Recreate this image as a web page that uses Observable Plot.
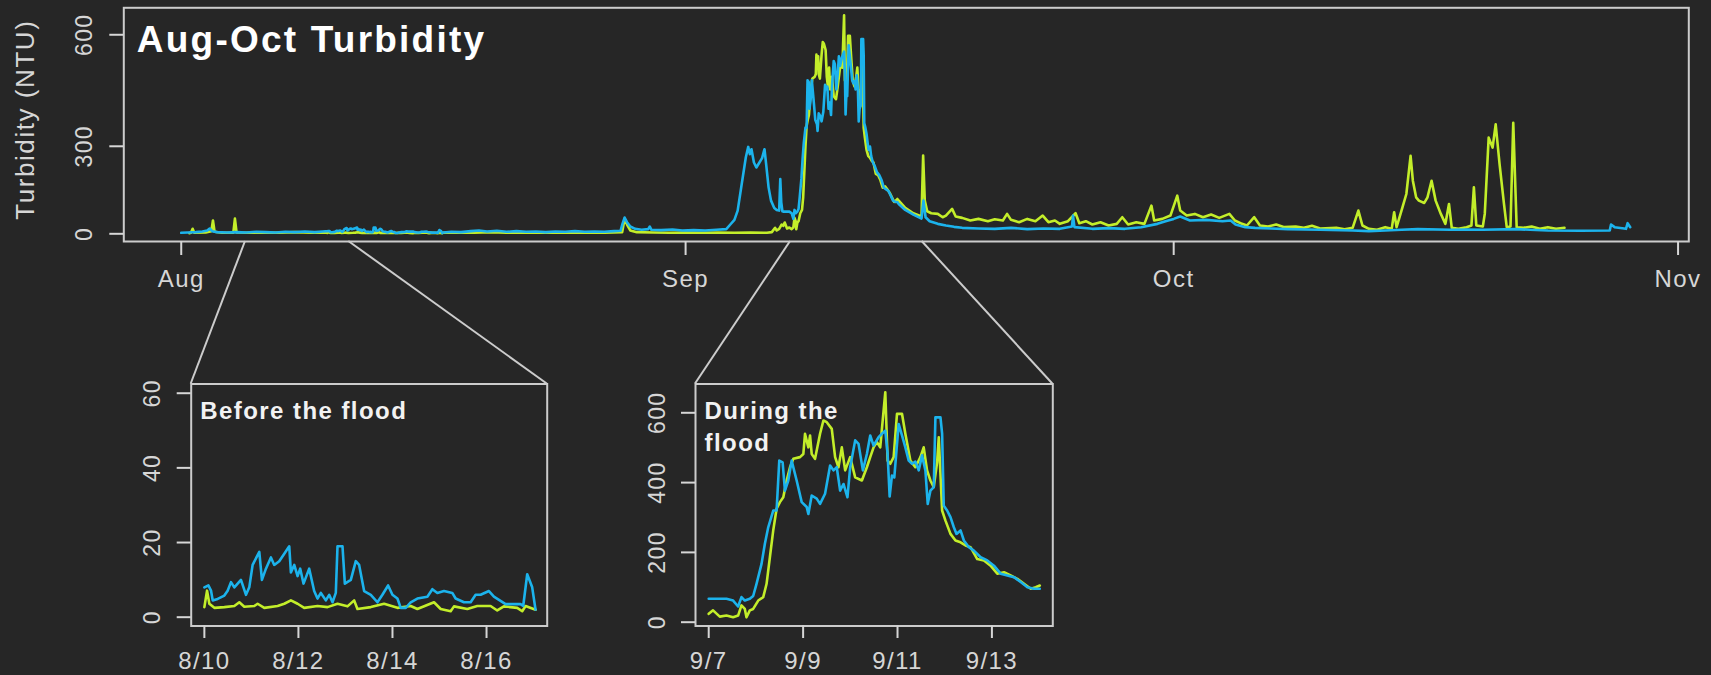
<!DOCTYPE html>
<html><head><meta charset="utf-8">
<script src="https://cdn.jsdelivr.net/npm/d3@7"></script>
<script src="https://cdn.jsdelivr.net/npm/@observablehq/plot@0.6"></script>
<style>
html,body{margin:0;padding:0;background:#262626;}
#chart{position:relative;width:1711px;height:675px;background:#262626;overflow:hidden;}
#chart svg{position:absolute;left:0;top:0;}
</style></head><body><div id="chart"></div>
<script>
// ---------- data (day offset, turbidity NTU) ----------
const seriesNames = ["Sensor A", "Sensor B"]; // green, blue
const mainStart = "2013-08-01";
const beforeStart = "2013-08-10";
const duringStart = "2013-09-07";

// "Before the flood" window (days since Aug 10)
const beforeBlue = [[0.00,8.0],[0.085,8.5],[0.142,7.1],[0.177,4.5],[0.283,4.9],[0.425,5.8],[0.495,7.1],[0.566,9.4],[0.637,8.0],[0.708,9.0],[0.778,10.0],[0.885,6.0],[0.955,8.0],[1.026,14.0],[1.168,17.5],[1.224,10.0],[1.309,13.0],[1.415,16.0],[1.486,14.0],[1.592,15.0],[1.699,17.0],[1.805,19.0],[1.840,12.0],[1.911,14.0],[1.982,11.0],[2.038,13.0],[2.109,9.0],[2.229,13.0],[2.335,7.0],[2.406,5.0],[2.477,6.5],[2.583,4.5],[2.654,6.0],[2.725,4.0],[2.795,6.5],[2.831,19.0],[2.937,19.0],[2.987,9.0],[3.114,10.0],[3.220,15.0],[3.291,14.0],[3.397,7.0],[3.539,6.0],[3.680,4.0],[3.786,6.0],[3.907,8.5],[3.999,6.0],[4.105,5.0],[4.176,2.5],[4.282,2.5],[4.388,4.0],[4.529,5.0],[4.742,5.5],[4.848,7.5],[4.954,6.5],[5.096,7.0],[5.272,6.5],[5.343,5.0],[5.520,4.0],[5.662,4.0],[5.768,6.0],[5.874,6.0],[6.051,7.0],[6.157,5.5],[6.405,3.5],[6.723,3.5],[6.780,3.0],[6.865,11.5],[6.971,8.0],[7.042,2.0]];
const beforeGreen = [[0.00,2.7],[0.057,7.1],[0.106,3.6],[0.212,2.5],[0.425,2.7],[0.637,3.0],[0.743,4.0],[0.849,2.8],[1.062,3.0],[1.132,3.6],[1.274,2.5],[1.557,3.0],[1.699,3.6],[1.840,4.5],[1.982,3.6],[2.123,2.5],[2.406,3.0],[2.618,2.7],[2.831,3.6],[3.043,2.9],[3.185,4.5],[3.255,2.2],[3.539,2.7],[3.822,3.6],[4.105,2.5],[4.388,3.0],[4.529,2.2],[4.883,4.0],[5.025,2.2],[5.237,1.6],[5.308,2.9],[5.591,2.2],[5.803,3.0],[6.086,3.0],[6.228,1.8],[6.369,2.9],[6.652,2.5],[6.759,1.6],[6.830,3.0],[7.042,2.0]];

// "During the flood" window (days since Sep 7)
const duringBlue = [[0.00,67],[0.376,67],[0.517,62],[0.623,45],[0.694,72],[0.765,62],[0.871,67],[0.942,75],[1.013,110],[1.119,167],[1.190,225],[1.261,272],[1.367,320],[1.438,320],[1.495,463],[1.566,458],[1.615,377],[1.686,406],[1.757,463],[1.863,406],[1.970,344],[2.076,330],[2.111,310],[2.182,363],[2.288,354],[2.359,339],[2.465,368],[2.572,449],[2.643,435],[2.713,444],[2.784,377],[2.855,396],[2.940,358],[2.997,444],[3.103,521],[3.174,511],[3.266,435],[3.351,482],[3.422,535],[3.493,506],[3.599,530],[3.670,540],[3.741,549],[3.790,482],[3.833,360],[3.882,420],[3.932,415],[4.024,568],[4.095,535],[4.166,501],[4.237,463],[4.308,454],[4.378,460],[4.449,435],[4.520,478],[4.591,435],[4.640,339],[4.697,377],[4.768,387],[4.803,587],[4.910,587],[4.945,540],[4.980,334],[5.051,320],[5.122,301],[5.193,272],[5.250,253],[5.335,263],[5.406,234],[5.512,215],[5.618,205],[5.760,186],[5.902,177],[6.043,162],[6.185,139],[6.327,134],[6.468,129],[6.610,115],[6.752,100],[6.893,96],[7.014,96]];
const duringGreen = [[0.00,24],[0.092,34],[0.234,16],[0.376,19],[0.517,14],[0.623,19],[0.694,48],[0.765,38],[0.80,14],[0.871,34],[0.942,38],[1.049,62],[1.155,72],[1.226,110],[1.296,186],[1.367,263],[1.438,325],[1.509,344],[1.580,358],[1.651,406],[1.722,444],[1.792,468],[1.934,473],[2.005,482],[2.040,540],[2.111,501],[2.147,535],[2.182,482],[2.253,468],[2.359,540],[2.430,578],[2.501,573],[2.607,554],[2.678,473],[2.749,444],[2.820,501],[2.891,435],[2.997,473],[3.103,415],[3.245,406],[3.351,444],[3.422,473],[3.493,501],[3.564,516],[3.634,501],[3.741,659],[3.790,463],[3.847,454],[3.918,473],[3.989,597],[4.095,597],[4.166,540],[4.272,463],[4.378,444],[4.485,473],[4.555,501],[4.626,435],[4.697,406],[4.768,387],[4.839,458],[4.874,530],[4.945,320],[5.016,291],[5.122,253],[5.228,234],[5.335,229],[5.441,220],[5.547,215],[5.689,181],[5.831,177],[5.972,162],[6.114,139],[6.256,143],[6.397,134],[6.539,124],[6.681,110],[6.822,96],[6.929,100],[7.014,105]];

// remaining parts of the Aug-Oct record (days since Aug 1)
const earlyBlue = [[0,3],[0.4,4],[0.9,5],[1.3,7],[1.6,10],[1.75,16],[1.9,8],[2.2,5],[2.8,4],[3.4,5],[4.0,4],[4.6,6],[5.2,5],[5.8,4],[6.4,6],[7.0,5],[7.6,7],[8.2,5],[8.7,7]];
const earlyGreen = [[0.5,2],[0.6,3],[0.7,15],[0.8,3],[1.5,4],[1.85,8],[1.95,40],[2.05,6],[2.5,3],[3.2,3],[3.3,46],[3.4,4],[4,3],[5,4],[6,3],[7,5],[8,3],[8.9,3]];
const midBlue = [[16.1,4],[16.6,6],[17.2,5],[17.8,8],[18.3,10],[18.8,7],[19.4,9],[20.0,6],[20.6,8],[21.2,6],[21.8,7],[22.4,5],[23.0,7],[23.6,6],[24.2,8],[24.8,6],[25.4,7],[26.0,6],[26.6,8],[27.0,9],[27.12,30],[27.25,49],[27.4,35],[27.6,22],[27.9,15],[28.3,12],[28.7,14],[28.8,22],[28.9,12],[29.5,11],[30.2,13],[30.8,10],[31.5,11],[32.2,10],[32.9,12],[33.5,14],[33.75,28],[34.0,42],[34.2,70],[34.45,150],[34.7,230],[34.85,262],[34.95,240],[35.05,255],[35.2,215],[35.35,200],[35.5,212],[35.7,228],[35.85,255],[35.95,210],[36.1,140],[36.25,100],[36.45,78],[36.6,72],[36.75,70],[36.82,165],[36.88,95],[36.95,68]];
const midGreen = [[16.1,3],[17,4],[18,3],[19,5],[20,3],[21,4],[22,3],[23,4],[24,3],[25,4],[26,3],[27.1,5],[27.25,45],[27.4,28],[27.6,10],[28,5],[29,4],[30,3],[31,4],[32,3],[33,4],[34,3],[35,4],[36,3],[36.3,5],[36.5,18],[36.6,10],[36.75,15],[36.9,28]];
const lateBlue = [[44.1,90],[44.5,72],[45.0,58],[45.5,46],[45.62,100],[45.75,50],[46.0,38],[46.5,30],[47,25],[47.5,21],[48,18],[49,16],[50,15],[51,18],[52,14],[53,16],[54,15],[54.75,22],[54.81,55],[54.9,20],[56,15],[57,17],[58,15],[59,20],[60,30],[60.5,38],[61,45],[61.4,52],[62,40],[63,42],[64,38],[64.5,40],[64.8,28],[65.4,20],[66,18],[67,16],[68,14],[70,12],[72,10],[73,8],[74,10],[75,12],[76,14],[78,12],[79,13],[80,12],[82,14],[84,10],[86,9],[87.8,10],[87.88,28],[88.1,20],[88.8,15],[88.9,32],[89.06,20]];
const lateGreen = [[44.1,100],[44.5,78],[45.0,62],[45.5,52],[45.6,236],[45.7,100],[45.85,68],[46.1,62],[46.5,60],[46.8,50],[47.0,55],[47.38,75],[47.6,52],[48,48],[48.5,40],[49,45],[49.58,38],[50,44],[50.5,40],[50.76,60],[51,42],[51.5,35],[52,45],[52.5,38],[52.95,55],[53.3,35],[53.7,40],[54,30],[54.5,38],[54.97,62],[55.2,32],[55.6,38],[56,28],[56.5,35],[57,25],[57.5,30],[57.84,50],[58.2,28],[58.7,35],[59.2,30],[59.63,85],[59.8,40],[60.3,45],[60.8,55],[61.22,115],[61.4,70],[61.8,55],[62.3,60],[62.8,50],[63.3,58],[63.8,48],[64.42,60],[64.76,40],[65.2,30],[65.5,25],[65.95,50],[66.3,25],[66.8,22],[67.3,28],[67.8,20],[68.5,22],[69,18],[69.5,24],[70,16],[71,18],[71.5,14],[72,18],[72.35,70],[72.6,25],[73,15],[73.5,12],[74,20],[74.4,15],[74.55,65],[74.7,20],[75.06,80],[75.3,120],[75.56,235],[75.7,160],[75.9,110],[76.07,100],[76.4,93],[76.6,110],[76.85,160],[77.1,100],[77.42,60],[77.7,30],[77.92,90],[78.09,18],[78.5,15],[79,20],[79.3,25],[79.45,140],[79.6,25],[80,22],[80.12,60],[80.36,290],[80.6,260],[80.79,330],[81.03,210],[81.3,90],[81.47,20],[81.7,22],[81.87,335],[82.08,20],[82.5,18],[83,22],[83.5,15],[84,20],[84.5,15],[85.02,18]];

// tick labels
const mainXTicks = ["2013-08-01","2013-09-01","2013-10-01","2013-11-01"];
const mainYTicks = [0, 300, 600];
const beforeXTicks = ["2013-08-10","2013-08-12","2013-08-14","2013-08-16"];
const beforeYTicks = [0, 20, 40, 60];
const duringXTicks = ["2013-09-07","2013-09-09","2013-09-11","2013-09-13"];
const duringYTicks = [0, 200, 400, 600];
// zoom connector anchors on the main time axis (days since Aug 1)
const zoomLinks = [[3.95, 10.3], [37.45, 45.54]];

// ---------- helpers ----------
const DAY = 86400000;
const t0 = s => Date.parse(s + "T00:00:00Z");
const at = (base, d) => new Date(t0(base) + d * DAY);
const rows = (pairs, base, name) => pairs.map(([d, v]) => ({date: at(base, d), value: v, sensor: name}));

const W = 1711, H = 675;
const FG = "#d6d6d6", FRAME = "#cccccc", GREEN = "#c3ee2a", BLUE = "#1cb3ec";
const FONT = '"Liberation Sans", Arial, Helvetica, sans-serif';
const L = {
  main:   {left: 123.3, right: 1688.3, top: 7.3,   bottom: 241},
  before: {left: 190.7, right: 546.7,  top: 383.5, bottom: 625.5},
  during: {left: 695,   right: 1052.3, top: 383.5, bottom: 625.5}
};
const margins = b => ({marginLeft: b.left, marginRight: W - b.right, marginTop: b.top, marginBottom: H - b.bottom});
const style = {background: "transparent", color: FG, fontFamily: FONT, overflow: "visible"};

const mainGreen = [
  ...rows(earlyGreen, mainStart, seriesNames[0]),
  ...rows(beforeGreen, beforeStart, seriesNames[0]),
  ...rows(midGreen, mainStart, seriesNames[0]),
  ...rows(duringGreen, duringStart, seriesNames[0]),
  ...rows(lateGreen, mainStart, seriesNames[0])
];
const mainBlue = [
  ...rows(earlyBlue, mainStart, seriesNames[1]),
  ...rows(beforeBlue, beforeStart, seriesNames[1]),
  ...rows(midBlue, mainStart, seriesNames[1]),
  ...rows(duringBlue, duringStart, seriesNames[1]),
  ...rows(lateBlue, mainStart, seriesNames[1])
];

const lineOpts = c => ({x: "date", y: "value", stroke: c, strokeWidth: 2.6, strokeLinejoin: "round"});

function inset(box, start, ticksX, ticksY, yDomain, green, blue, title, lh) {
  return Plot.plot({
    width: W, height: H, ...margins(box), style,
    x: {type: "utc", domain: [at(start, -0.28), at(start, 7.29)], label: null},
    y: {domain: yDomain, label: null},
    marks: [
      Plot.frame({stroke: FRAME, strokeWidth: 2}),
      Plot.line(rows(green, start, seriesNames[0]), lineOpts(GREEN)),
      Plot.line(rows(blue, start, seriesNames[1]), lineOpts(BLUE)),
      Plot.axisX({ticks: ticksX.map(s => new Date(t0(s))), tickFormat: d3.utcFormat("%-m/%-d"), tickSize: 12.5, tickPadding: 13, fontSize: 24, strokeWidth: 2, color: FG, label: null}),
      Plot.axisY({ticks: ticksY, tickSize: 14, tickPadding: 17, tickRotate: -90, fontSize: 23, strokeWidth: 2, color: FG, label: null}),
      Plot.text([title], {frameAnchor: "top-left", dx: 9, dy: 12, lineAnchor: "top", textAnchor: "start", fontSize: 24, fontWeight: "bold", fill: "#f2f2f2", lineHeight: lh})
    ]
  });
}

const mainPlot = Plot.plot({
  width: W, height: H, ...margins(L.main), style,
  x: {type: "utc", domain: [at(mainStart, -3.53), at("2013-11-01", 0.66)], label: null},
  y: {domain: [-23.2, 681.3], label: null},
  marks: [
    Plot.frame({stroke: FRAME, strokeWidth: 2}),
    Plot.line(mainGreen, lineOpts(GREEN)),
    Plot.line(mainBlue, lineOpts(BLUE)),
    Plot.axisX({ticks: mainXTicks.map(s => new Date(t0(s))), tickFormat: d3.utcFormat("%b"), tickSize: 14, tickPadding: 14, fontSize: 24, strokeWidth: 2, color: FG, label: null}),
    Plot.axisY({ticks: mainYTicks.filter(v => v !== 300), tickSize: 14, tickPadding: 18, tickRotate: -90, fontSize: 23, strokeWidth: 2, color: FG, label: null}),
    Plot.axisY({ticks: mainYTicks.filter(v => v === 300), dy: 12, tickSize: 14, tickPadding: 18, tickRotate: -90, fontSize: 23, strokeWidth: 2, color: FG, label: null}),
    Plot.text(["Turbidity (NTU)"], {frameAnchor: "left", rotate: -90, dx: -108, dy: -5, lineAnchor: "top", textAnchor: "middle", fontSize: 26, fill: FG}),
    Plot.text(["Aug-Oct Turbidity"], {frameAnchor: "top-left", dx: 13, dy: 17.5, lineAnchor: "top", textAnchor: "start", fontSize: 37, fontWeight: "bold", fill: "#ffffff"})
  ]
});

const beforePlot = inset(L.before, beforeStart, beforeXTicks, beforeYTicks, [-2.36, 62.47], beforeGreen, beforeBlue, "Before the flood", 1.33);
const duringPlot = inset(L.during, duringStart, duringXTicks, duringYTicks, [-10.9, 682.5], duringGreen, duringBlue, "During the\nflood", 1.33);

// connectors from the main time axis to the inset frames
const xMain = mainPlot.scale("x");
const yMainRange = mainPlot.scale("y").range;
const links = d3.create("svg").attr("width", W).attr("height", H).style("overflow", "visible");
[[zoomLinks[0], beforePlot], [zoomLinks[1], duringPlot]].forEach(([[a, b], p]) => {
  const xr = p.scale("x").range, yr = p.scale("y").range;
  const yTop = Math.min(...yr), yBottomMain = Math.max(...yMainRange);
  const segs = [[xMain.apply(at(mainStart, a)), Math.min(...xr)], [xMain.apply(at(mainStart, b)), Math.max(...xr)]];
  segs.forEach(([x1, x2]) => links.append("line")
    .attr("x1", x1).attr("y1", yBottomMain).attr("x2", x2).attr("y2", yTop)
    .attr("stroke", FRAME).attr("stroke-width", 2));
});

const root = document.getElementById("chart");
[mainPlot, links.node(), beforePlot, duringPlot].forEach(n => {
  n.querySelectorAll("text").forEach(t => t.setAttribute("letter-spacing", "0.06em"));
  root.appendChild(n);
});
</script></body></html>
